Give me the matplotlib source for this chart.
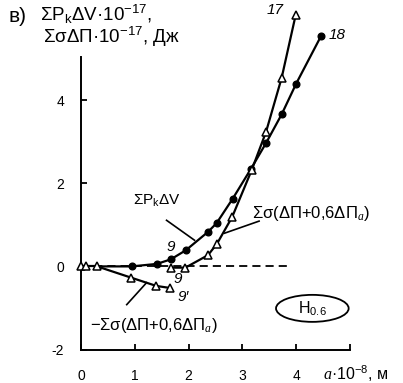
import matplotlib
matplotlib.use('Agg')
import matplotlib.pyplot as plt
import matplotlib.patches as patches

plt.rcParams['font.family'] = ['Liberation Sans', 'DejaVu Sans']
plt.rcParams['mathtext.fontset'] = 'custom'
plt.rcParams['mathtext.rm'] = 'Liberation Sans'
plt.rcParams['mathtext.it'] = 'Liberation Serif:italic'
plt.rcParams['mathtext.default'] = 'regular'

# shared start (triangles)
start_x = [0.0, 0.1, 0.3]
start_y = [0.0, 0.0, 0.0]

# curve 18: sum Pk dV (filled circles)
pk_x = [0.3, 0.94, 1.41, 1.67, 1.95, 2.36, 2.52, 2.82, 3.16, 3.44, 3.73, 4.0, 4.46]
pk_y = [0.0, 0.0, 0.06, 0.17, 0.39, 0.83, 1.04, 1.63, 2.35, 2.97, 3.66, 4.4, 5.54]

# curve 17: sum sigma(dP + 0.6 dPa) (open triangles)
sig_x = [1.67, 1.94, 2.36, 2.53, 2.81, 3.17, 3.44, 3.73, 3.99]
sig_y = [-0.03, -0.03, 0.27, 0.55, 1.19, 2.31, 3.24, 4.54, 6.05]

# curve 9': negative branch
neg_x = [0.3, 0.93, 1.40, 1.66]
neg_y = [0.0, -0.27, -0.47, -0.52]

dash_x = [0.0, 3.87]
dash_y = [0.0, 0.0]

x_ticks = [0, 1, 2, 3, 4, 5]
x_labels = ['0', '1', '2', '3', '4', '']
y_ticks = [-2, 0, 2, 4]
y_labels = ['-2', '0', '2', '4']

fig = plt.figure(figsize=(4.03, 3.83), dpi=100)
ax = fig.add_axes([81 / 403, 33.5 / 383, 269 / 403, 292.5 / 383])
ax.set_xlim(0, 5)
ax.set_ylim(-2, 5.04)

for s in ('top', 'right'):
    ax.spines[s].set_visible(False)
for s in ('left', 'bottom'):
    ax.spines[s].set_linewidth(1.4)

ax.set_xticks(x_ticks)
ax.set_xticklabels(x_labels)
ax.set_yticks(y_ticks)
ax.set_yticklabels(y_labels)
ax.tick_params(direction='in', length=4, width=1.3, labelsize=10)
ax.tick_params(axis='x', pad=14)
ax.tick_params(axis='y', pad=12)

# dashed zero line
ax.plot(dash_x, dash_y, color='black', lw=1.3, dashes=(4.5, 2.8), clip_on=False)

lw = 1.6
ax.plot(pk_x, pk_y, color='black', lw=lw, marker='o', ms=4.8,
        markevery=slice(1, None), clip_on=False, zorder=3)
ax.plot(neg_x, neg_y, color='black', lw=lw, marker='^', ms=5.5, mfc='white',
        mew=1.1, markevery=slice(1, None), clip_on=False, zorder=4)
ax.plot(sig_x, sig_y, color='black', lw=lw, marker='^', ms=5.5, mfc='white',
        mew=1.1, clip_on=False, zorder=4)
ax.plot(start_x, start_y, color='black', lw=lw, marker='^', ms=5.5, mfc='white',
        mew=1.1, clip_on=False, zorder=5)

# leader lines
ax.plot([1.59, 2.11], [1.11, 0.63], color='black', lw=1.2)
ax.plot([3.31, 2.67], [1.09, 0.80], color='black', lw=1.2)
ax.plot([0.85, 1.22], [-0.92, -0.39], color='black', lw=1.2)

# curve labels
ax.text(1.41, 1.59, r'ΣP$_{k}$ΔV', fontsize=11, ha='center', va='center')
ax.text(3.17, 1.28, r'Σσ(ΔП+0,6ΔП$_{\mathit{a}}$)', fontsize=12,
        ha='left', va='center')
ax.text(0.17, -1.42, r'−Σσ(ΔП+0,6ΔП$_{\mathit{a}}$)', fontsize=12,
        ha='left', va='center')

ax.text(3.61, 6.17, '17', fontsize=11, style='italic', ha='center', va='center')
ax.text(4.76, 5.57, '18', fontsize=11, style='italic', ha='center', va='center')
ax.text(1.67, 0.47, '9', fontsize=11, style='italic', ha='center', va='center')
ax.text(1.8, -0.3, '9', fontsize=11, style='italic', ha='center', va='center')
ax.text(1.9, -0.74, '9\u2032', fontsize=11, style='italic', ha='center', va='center')

# H0.6 badge
ell = patches.Ellipse((4.30, -1.01), 1.35, 0.65, facecolor='white',
                      edgecolor='black', lw=1.3)
ax.add_patch(ell)
ax.text(4.30, -1.01, r'H$_{0.6}$', fontsize=11.5, ha='center', va='center')

# axis titles
fig.text(8 / 403, 1 - 17 / 383, 'в)', fontsize=15, ha='left', va='center')
fig.text(40 / 403, 1 - 14 / 383, r'ΣP$_{k}$ΔV·10$^{-17}$,', fontsize=13.5,
         ha='left', va='center')
fig.text(43 / 403, 1 - 37 / 383, r'ΣσΔП·10$^{-17}$, Дж', fontsize=13.5,
         ha='left', va='center')
fig.text(323 / 403, 1 - 374 / 383, r'$\mathit{a}$·10$^{-8}$, м', fontsize=11.5,
         ha='left', va='center')

fig.savefig('out.png', dpi=100)
